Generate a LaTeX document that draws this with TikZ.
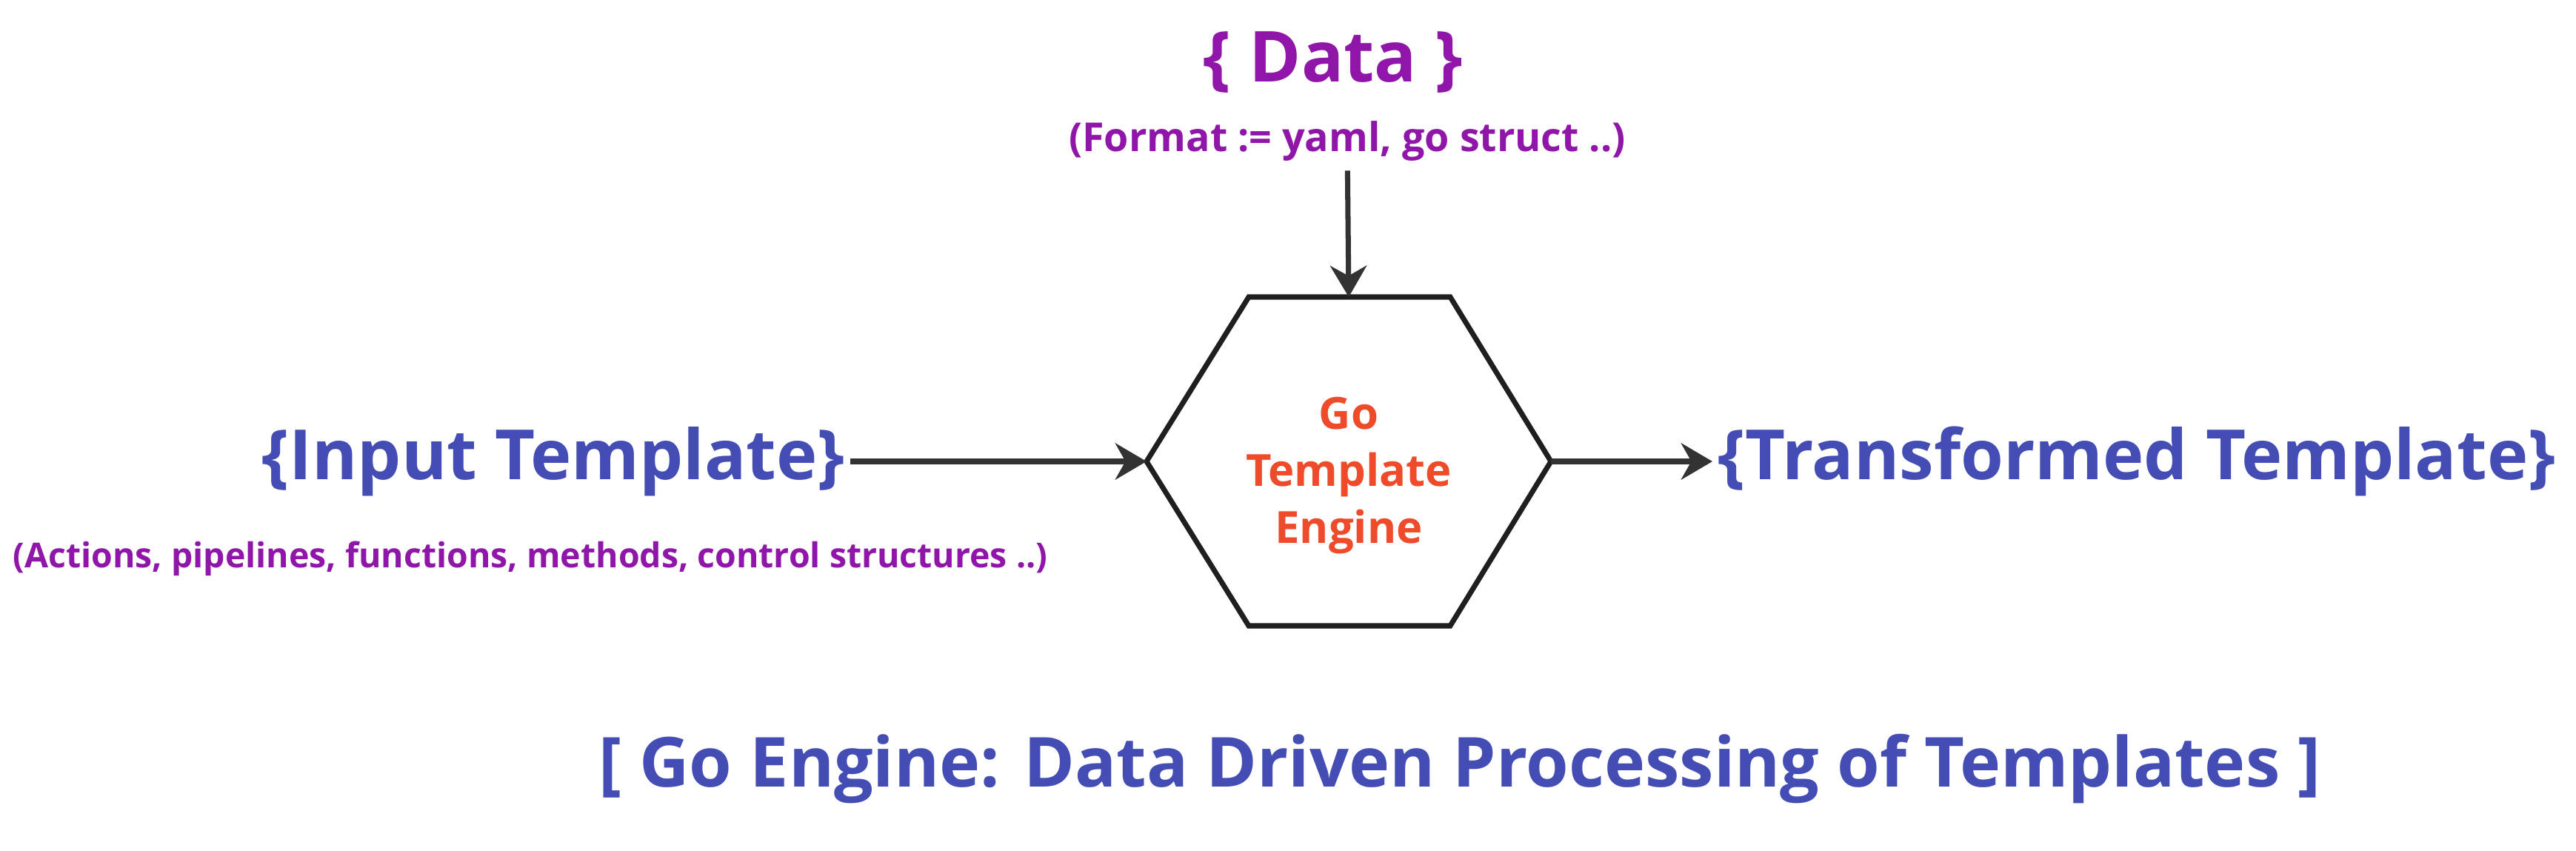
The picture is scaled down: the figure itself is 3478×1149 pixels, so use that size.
\documentclass[tikz,border=0pt]{standalone}
\usepackage{fontspec}
\setmainfont{Open Sans}
\usetikzlibrary{arrows.meta,positioning}
\definecolor{indigo}{HTML}{434DB4}
\definecolor{plum}{HTML}{9016AA}
\definecolor{ember}{HTML}{EF4B2B}
\definecolor{ink}{HTML}{333333}

\begin{document}
\begin{tikzpicture}[x=0.01cm,y=-0.01cm,
 big/.style={text=indigo,font=\fontsize{26.6}{32}\selectfont\bfseries,inner sep=2pt},
 note/.style={text=plum,font=\fontsize{13.2}{16}\selectfont\bfseries},
 link/.style={draw=ink,line width=2pt,-{Stealth[length=12pt,width=14pt]}}]
 \useasboundingbox (0,0) rectangle (3478,1149);
 % hexagon corners
 \coordinate (hl) at (1548,623);
 \coordinate (htl) at (1686,401);
 \coordinate (ht) at (1821,401);
 \coordinate (htr) at (1958,401);
 \coordinate (hr) at (2094,623);
 \coordinate (hbr) at (1958,845);
 \coordinate (hbl) at (1686,845);
 \draw[line width=2pt,draw=black!88,line join=miter] (hl) -- (htl) -- (htr) -- (hr) -- (hbr) -- (hbl) -- cycle;
 \node[text=ember,align=center,font=\fontsize{17}{22}\selectfont\bfseries] (eng) at (1821,642) {Go\\Template\\Engine};
 \node[big,text=plum,font=\fontsize{27}{32}\selectfont\bfseries] (data) at (1800,84) {\{ Data \}};
 \node[note,font=\fontsize{15.3}{18}\selectfont\bfseries] (fmt) at (1819,191) {(Format := yaml, go struct ..)};
 \node[big,anchor=east] (inp) at (1148,623) {\{Input Template\}};
 \node[note] (act) at (716,754) {(Actions, pipelines, functions, methods, control structures ..)};
 \node[big,anchor=west] (out) at (2312,623) {\{Transformed Template\}};
 \node[big,font=\fontsize{26.5}{30}\selectfont\bfseries] (title) at (1971,1038) {[ Go Engine: Data Driven Processing of Templates ]};
 \draw[link] (fmt) -- (ht);
 \draw[link] (inp) -- (hl);
 \draw[link] (hr) -- (out);
\end{tikzpicture}
\end{document}
